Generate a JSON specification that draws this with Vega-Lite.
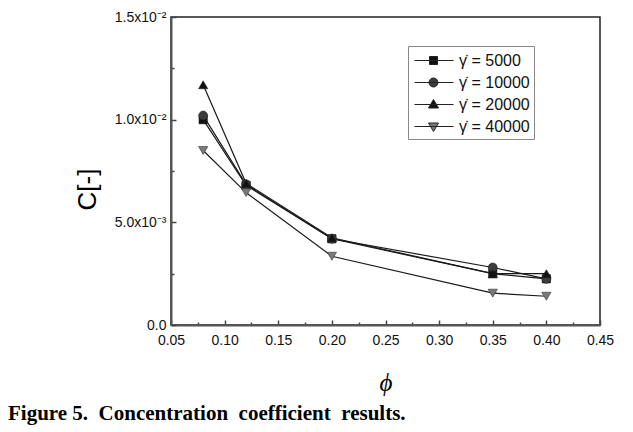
{
  "$schema": "https://vega.github.io/schema/vega-lite/v6.json",
  "width": 429,
  "height": 308,
  "autosize": "none",
  "padding": {"left": 171, "top": 17, "right": 33, "bottom": 107},
  "background": "white",
  "config": {
    "view": {"stroke": "#222", "strokeWidth": 1.5},
    "font": "Liberation Sans"
  },
  "title": {
    "text": "Figure 5.\u00a0 Concentration\u00a0 coefficient\u00a0 results.",
    "orient": "bottom",
    "anchor": "start",
    "frame": "group",
    "font": "Liberation Serif",
    "fontSize": 21,
    "fontWeight": "bold",
    "color": "#000",
    "dx": -163,
    "offset": 8
  },
  "data": {
    "values": [
      {"series": "5000", "phi": 0.08, "C": 0.0100},
      {"series": "5000", "phi": 0.12, "C": 0.0068},
      {"series": "5000", "phi": 0.20, "C": 0.0042},
      {"series": "5000", "phi": 0.35, "C": 0.0025},
      {"series": "5000", "phi": 0.40, "C": 0.00225},
      {"series": "10000", "phi": 0.08, "C": 0.0102},
      {"series": "10000", "phi": 0.12, "C": 0.00685},
      {"series": "10000", "phi": 0.20, "C": 0.0042},
      {"series": "10000", "phi": 0.35, "C": 0.0028},
      {"series": "10000", "phi": 0.40, "C": 0.00225},
      {"series": "20000", "phi": 0.08, "C": 0.0117},
      {"series": "20000", "phi": 0.12, "C": 0.0069},
      {"series": "20000", "phi": 0.20, "C": 0.00425},
      {"series": "20000", "phi": 0.35, "C": 0.0025},
      {"series": "20000", "phi": 0.40, "C": 0.0025},
      {"series": "40000", "phi": 0.08, "C": 0.0085},
      {"series": "40000", "phi": 0.12, "C": 0.00645},
      {"series": "40000", "phi": 0.20, "C": 0.00335},
      {"series": "40000", "phi": 0.35, "C": 0.00155},
      {"series": "40000", "phi": 0.40, "C": 0.0014}
    ]
  },
  "encoding": {
    "x": {
      "field": "phi",
      "type": "quantitative",
      "scale": {"domain": [0.05, 0.45], "nice": false, "zero": false},
      "axis": {
        "title": "\u03d5",
        "titleFont": "Liberation Serif",
        "titleFontStyle": "italic",
        "titleFontWeight": "normal",
        "titleFontSize": 25,
        "titleColor": "#000",
        "titlePadding": 21,
        "values": [0.05, 0.075, 0.1, 0.125, 0.15, 0.175, 0.2, 0.225, 0.25, 0.275, 0.3, 0.325, 0.35, 0.375, 0.4, 0.425, 0.45],
        "labelExpr": "abs(datum.value*20 - round(datum.value*20)) < 0.01 ? format(datum.value, '.2f') : ''",
        "tickSize": {"condition": {"test": "abs(datum.value*20 - round(datum.value*20)) < 0.01", "value": -5}, "value": -3},
        "tickColor": "#444",
        "tickWidth": 1.5,
        "domainColor": "#555",
        "domainWidth": 2,
        "labelFontSize": 14,
        "labelColor": "#111",
        "labelPadding": 13,
        "labelFlush": false,
        "labelOverlap": false,
        "grid": false
      }
    },
    "y": {
      "field": "C",
      "type": "quantitative",
      "scale": {"domain": [0, 0.015], "nice": false},
      "axis": {
        "title": "C[-]",
        "titleFont": "Liberation Sans",
        "titleFontWeight": "normal",
        "titleFontSize": 26,
        "titleColor": "#000",
        "titleX": -84,
        "titleY": 172,
        "titleBaseline": "middle",
        "values": [0, 0.0025, 0.005, 0.0075, 0.01, 0.0125, 0.015],
        "labelExpr": "abs(datum.value) < 1e-7 ? '0.0' : abs(datum.value - 0.005) < 1e-7 ? '5.0x10\u207b\u00b3' : abs(datum.value - 0.01) < 1e-7 ? '1.0x10\u207b\u00b2' : abs(datum.value - 0.015) < 1e-7 ? '1.5x10\u207b\u00b2' : ''",
        "tickSize": {"condition": {"test": "abs(datum.value*200 - round(datum.value*200)) < 0.01", "value": -5}, "value": -3},
        "tickColor": "#444",
        "tickWidth": 1.5,
        "domainColor": "#555",
        "domainWidth": 2,
        "labelFontSize": 14,
        "labelColor": "#111",
        "labelPadding": 10,
        "labelFlush": false,
        "labelOverlap": false,
        "grid": false
      }
    }
  },
  "layer": [
    {
      "mark": {"type": "line", "color": "#1a1a1a", "strokeWidth": 1.2},
      "encoding": {"detail": {"field": "series"}}
    },
    {
      "transform": [{"filter": "datum.series === '5000'"}],
      "mark": {"type": "point", "shape": "square", "filled": true, "opacity": 1, "color": "#111111", "stroke": "#222", "strokeWidth": 0.6, "size": 70}
    },
    {
      "transform": [{"filter": "datum.series === '10000'"}],
      "mark": {"type": "point", "shape": "circle", "filled": true, "opacity": 1, "color": "#3c3c3c", "stroke": "#222", "strokeWidth": 0.6, "size": 80}
    },
    {
      "transform": [{"filter": "datum.series === '20000'"}],
      "mark": {"type": "point", "shape": "triangle-up", "filled": true, "opacity": 1, "color": "#111111", "stroke": "#222", "strokeWidth": 0.6, "size": 85}
    },
    {
      "transform": [{"filter": "datum.series === '40000'"}],
      "mark": {"type": "point", "shape": "triangle-down", "filled": true, "opacity": 1, "color": "#7a7a7a", "stroke": "#333", "strokeWidth": 0.6, "size": 85}
    },
    {
      "mark": {"type": "point", "filled": true, "opacity": 0, "stroke": "#222", "strokeWidth": 1},
      "encoding": {
        "color": {
          "field": "series",
          "scale": {"domain": ["5000", "10000", "20000", "40000"], "range": ["#111111", "#3c3c3c", "#111111", "#7a7a7a"]},
          "legend": {"title": null}
        },
        "shape": {
          "field": "series",
          "scale": {
            "domain": ["5000", "10000", "20000", "40000"],
            "range": [
              "M-0.8,0H3.1M0.7,-0.4H1.5V0.4H0.7Z",
              "M-0.8,0H3.1M1.55,0A0.45,0.45 0 1,1 0.65,0A0.45,0.45 0 1,1 1.55,0Z",
              "M-0.8,0H3.1M1.1,-0.5L1.6,0.35H0.6Z",
              "M-0.8,0H3.1M1.1,0.5L1.6,-0.35H0.6Z"
            ]
          },
          "legend": {
            "title": null,
            "orient": "none",
            "legendX": 237,
            "legendY": 29,
            "symbolSize": 400,
            "symbolOpacity": 1,
            "symbolStrokeColor": "#222",
            "symbolStrokeWidth": 1,
            "labelFontSize": 16,
            "labelColor": "#111",
            "labelFont": "Liberation Sans",
            "labelOffset": 26,
            "labelExpr": "'\u03b3\u0307 = ' + datum.label",
            "strokeColor": "#888",
            "padding": 4,
            "rowPadding": 3,
            "fillColor": "white"
          }
        }
      }
    }
  ]
}
